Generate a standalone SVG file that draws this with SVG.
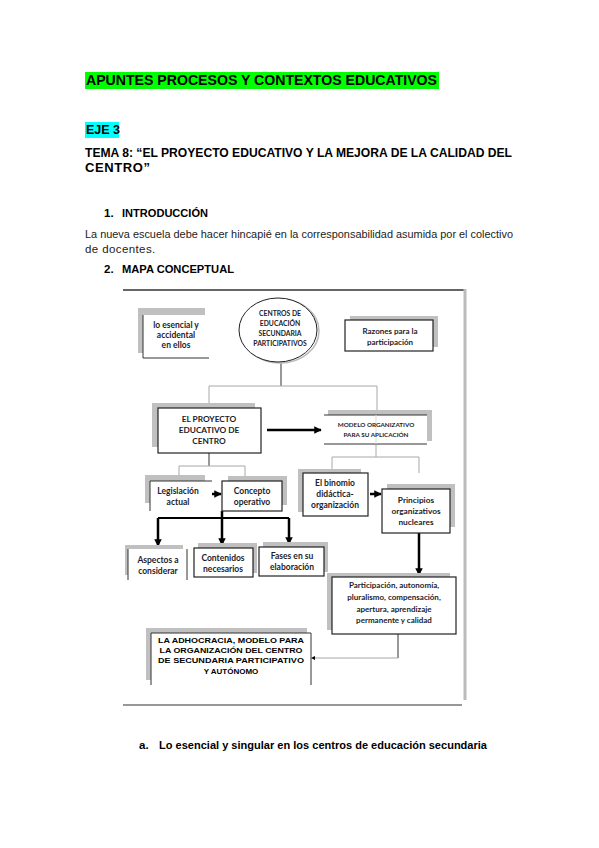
<svg xmlns="http://www.w3.org/2000/svg" width="599" height="848" viewBox="0 0 599 848">
<style>
.h{font-family:"Liberation Sans",Arial,sans-serif;font-weight:bold;fill:#000}
.p{font-family:"Liberation Sans",Arial,sans-serif;fill:#222}
.l{font-family:Lato,"Liberation Sans",sans-serif;font-weight:bold;fill:#1c1c2a;text-anchor:middle}
.sh{fill:#c0c0c0}
.bx{fill:#fff;stroke:#222;stroke-width:1.2}
.thin{fill:none;stroke:#a8a8a8;stroke-width:1}
.dk{fill:none;stroke:#333;stroke-width:1}
.thick{fill:none;stroke:#000;stroke-width:2.5}
</style>
<defs>
<marker id="ah" viewBox="0 0 10 10" refX="9" refY="5" markerWidth="3" markerHeight="3" orient="auto"><path d="M0,0 L10,5 L0,10 z" fill="#000"/></marker>
<marker id="sm" viewBox="0 0 10 10" refX="9" refY="5" markerWidth="4" markerHeight="4" orient="auto"><path d="M0,1 L10,5 L0,9 z" fill="#000"/></marker>
</defs>
<rect width="599" height="848" fill="#fff"/>

<rect x="85" y="72" width="354" height="17" fill="#00ff00"/>
<text class="h" x="86" y="85" font-size="15" textLength="351" lengthAdjust="spacingAndGlyphs">APUNTES PROCESOS Y CONTEXTOS EDUCATIVOS</text>
<rect x="85" y="122" width="34" height="16" fill="#00ffff"/>
<text class="h" x="86" y="134" font-size="12.5">EJE 3</text>
<text class="h" x="85" y="157" font-size="13" textLength="427" lengthAdjust="spacingAndGlyphs">TEMA 8: “EL PROYECTO EDUCATIVO Y LA MEJORA DE LA CALIDAD DEL</text>
<text class="h" x="85" y="172" font-size="13" letter-spacing="0.6">CENTRO”</text>
<text class="h" x="104" y="217" font-size="11.5">1.</text>
<text class="h" x="122" y="217" font-size="11.5" textLength="86" lengthAdjust="spacingAndGlyphs">INTRODUCCIÓN</text>
<text class="p" x="85" y="238" font-size="11.5" textLength="428" lengthAdjust="spacingAndGlyphs">La nueva escuela debe hacer hincapié en la corresponsabilidad asumida por el colectivo</text>
<text class="p" x="85" y="253" font-size="11.5" letter-spacing="0.4">de docentes.</text>
<text class="h" x="104" y="273" font-size="11.5">2.</text>
<text class="h" x="122" y="273" font-size="11.5" textLength="112" lengthAdjust="spacingAndGlyphs">MAPA CONCEPTUAL</text>
<text class="h" x="139" y="749" font-size="11.5">a.</text>
<text class="h" x="159" y="749" font-size="11.5" textLength="328" lengthAdjust="spacingAndGlyphs">Lo esencial y singular en los centros de educación secundaria</text>

<g id="frame">
<line x1="123" y1="290" x2="466" y2="290" stroke="#333" stroke-width="1.5"/>
<line x1="465" y1="289" x2="465" y2="700" stroke="#bbb" stroke-width="3"/>
<line x1="123" y1="705" x2="462" y2="705" stroke="#333" stroke-width="1.2"/>
</g>

<g id="connectors">
<path class="dk" d="M281,363 V386"/>
<path class="thin" d="M209,386 H377 M209,386 V408 M377,386 V415"/>
<path class="thick" d="M267,430 H321" marker-end="url(#ah)" stroke-width="3"/>
<path class="dk" d="M209,453 V466"/>
<path class="thin" d="M179,466 H245 M179,466 V481 M245,466 V481"/>
<path class="thin" d="M376,444 V457 M332,457 H419 M332,457 V473 M419,457 V473"/>
<path class="thick" d="M208,494 H221" marker-end="url(#ah)"/>
<path class="thick" d="M370,494 H381" marker-end="url(#ah)"/>
<path fill="none" stroke="#000" stroke-width="2" d="M158,518 H289"/>
<path class="thick" d="M158,518 V546" marker-end="url(#ah)"/>
<path class="thick" d="M222,511 V545" marker-end="url(#ah)"/>
<path class="thick" d="M289,518 V544" marker-end="url(#ah)"/>
<path class="thick" d="M419,533 V575" marker-end="url(#ah)"/>
<path class="dk" d="M398,634 V658"/>
<path class="thin" d="M398,658 H314"/>
<path d="M311,658 L315,656 L315,660 z" fill="#000"/>
</g>

<g id="n-esencial">
<rect class="sh" x="138" y="308" width="67" height="45"/>
<rect x="143" y="315" width="66" height="43" fill="#fff"/>
<path class="dk" d="M143,315 V358 H209"/>
<text class="l" x="176" y="328" font-size="8.5">lo esencial y</text>
<text class="l" x="176" y="338" font-size="8.5">accidental</text>
<text class="l" x="176" y="348" font-size="8.5">en ellos</text>
</g>

<g id="n-centros">
<ellipse cx="280" cy="331" rx="39" ry="32" fill="none" stroke="#bbb" stroke-width="1.5"/>
<ellipse cx="278" cy="330" rx="39" ry="32" fill="#fff" stroke="#222" stroke-width="1"/>
<text class="l" x="280" y="316" font-size="6.8">CENTROS DE</text>
<text class="l" x="280" y="326" font-size="6.8">EDUCACIÓN</text>
<text class="l" x="280" y="336" font-size="6.8">SECUNDARIA</text>
<text class="l" x="280" y="346" font-size="6.8">PARTICIPATIVOS</text>
</g>

<g id="n-razones">
<rect class="sh" x="350" y="316" width="88" height="31"/>
<rect class="bx" x="345" y="320" width="88" height="31"/>
<text class="l" x="390" y="334" font-size="8">Razones para la</text>
<text class="l" x="390" y="345" font-size="8">participación</text>
</g>

<g id="n-proyecto">
<rect class="sh" x="152" y="403" width="103" height="44"/>
<rect class="bx" x="158" y="408" width="103" height="45"/>
<text class="l" x="209" y="422" font-size="8.3">EL PROYECTO</text>
<text class="l" x="209" y="433" font-size="8.3">EDUCATIVO DE</text>
<text class="l" x="209" y="444" font-size="8.3">CENTRO</text>
</g>

<g id="n-modelo">
<rect class="sh" x="328" y="410" width="104" height="31"/>
<rect x="324" y="415" width="103" height="29" fill="#fff"/>
<path class="dk" d="M324,415 H427 M324,444 H427"/>
<line x1="376" y1="415" x2="376" y2="444" stroke="#ddd" stroke-width="1"/>
<text class="l" x="376" y="427" font-size="6.3">MODELO ORGANIZATIVO</text>
<text class="l" x="376" y="437" font-size="6.3">PARA SU APLICACIÓN</text>
</g>

<g id="n-legislacion">
<rect class="sh" x="145" y="475" width="60" height="28"/>
<rect x="150" y="481" width="62" height="30" fill="#fff"/>
<path class="dk" d="M150,511 V481 H212"/>
<text class="l" x="178" y="494" font-size="8.5">Legislación</text>
<text class="l" x="178" y="505" font-size="8.5">actual</text>
</g>

<g id="n-concepto">
<rect class="sh" x="228" y="476" width="59" height="29"/>
<rect class="bx" x="222" y="481" width="60" height="30"/>
<text class="l" x="252" y="494" font-size="8.5">Concepto</text>
<text class="l" x="252" y="505" font-size="8.5">operativo</text>
</g>

<g id="n-binomio">
<rect class="sh" x="298" y="469" width="63" height="43"/>
<rect class="bx" x="303" y="473" width="65" height="43"/>
<text class="l" x="335" y="486" font-size="8.5">El binomio</text>
<text class="l" x="335" y="497" font-size="8.5">didáctica-</text>
<text class="l" x="335" y="508" font-size="8.5">organización</text>
</g>

<g id="n-principios">
<rect class="sh" x="387" y="484" width="68" height="43"/>
<rect class="bx" x="382" y="489" width="68" height="44"/>
<text class="l" x="416" y="503" font-size="8.3">Principios</text>
<text class="l" x="416" y="514" font-size="8.3">organizativos</text>
<text class="l" x="416" y="525" font-size="8.3">nucleares</text>
</g>

<g id="n-aspectos">
<rect class="sh" x="125" y="545" width="58" height="30"/>
<rect x="128" y="549" width="59" height="31" fill="#fff"/>
<path class="dk" d="M128,580 V549 M187,549 V580"/>
<text class="l" x="158" y="563" font-size="8.5">Aspectos a</text>
<text class="l" x="158" y="574" font-size="8.5">considerar</text>
</g>

<g id="n-contenidos">
<rect class="sh" x="198" y="543" width="59" height="30"/>
<rect class="bx" x="194" y="548" width="59" height="29"/>
<text class="l" x="223" y="561" font-size="8.5">Contenidos</text>
<text class="l" x="223" y="572" font-size="8.5">necesarios</text>
</g>

<g id="n-fases">
<rect class="sh" x="263" y="542" width="65" height="30"/>
<rect class="bx" x="259" y="547" width="65" height="29"/>
<text class="l" x="292" y="559" font-size="8.5">Fases en su</text>
<text class="l" x="292" y="570" font-size="8.5">elaboración</text>
</g>

<g id="n-participacion">
<rect class="sh" x="327" y="573" width="123" height="57"/>
<rect class="bx" x="332" y="577" width="124" height="57"/>
<text class="l" x="394" y="588" font-size="8">Participación, autonomía,</text>
<text class="l" x="394" y="600" font-size="8">pluralismo, compensación,</text>
<text class="l" x="394" y="612" font-size="8">apertura, aprendizaje</text>
<text class="l" x="394" y="623" font-size="8">permanente y calidad</text>
</g>

<g id="n-adhocracia">
<rect class="sh" x="146" y="628" width="161" height="52"/>
<rect x="151" y="633" width="160" height="52" fill="#fff"/>
<path class="dk" d="M151,685 V633 H311 V685"/>
<text class="h" x="231" y="643" font-size="8" text-anchor="middle" textLength="146" lengthAdjust="spacingAndGlyphs" fill="#1c1c2a">LA ADHOCRACIA, MODELO PARA</text>
<text class="h" x="231" y="653" font-size="8" text-anchor="middle" textLength="143" lengthAdjust="spacingAndGlyphs" fill="#1c1c2a">LA ORGANIZACIÓN DEL CENTRO</text>
<text class="h" x="231" y="663" font-size="8" text-anchor="middle" textLength="146" lengthAdjust="spacingAndGlyphs" fill="#1c1c2a">DE SECUNDARIA PARTICIPATIVO</text>
<text class="h" x="231" y="674" font-size="8" text-anchor="middle" fill="#1c1c2a">Y AUTÓNOMO</text>
</g>
</svg>
